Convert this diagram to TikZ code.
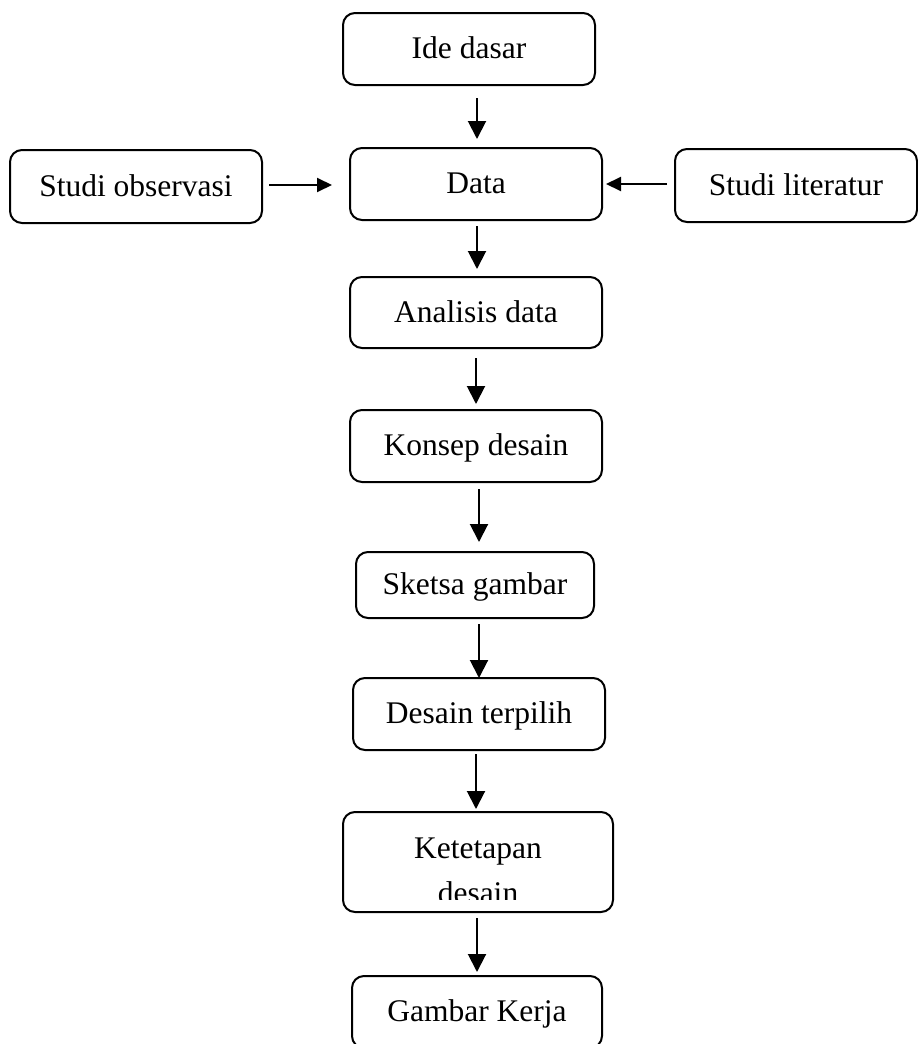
\documentclass[tikz,border=0pt]{standalone}
\usepackage{fontspec}
\setmainfont{Liberation Serif}
\usetikzlibrary{arrows.meta}
\begin{document}
\begin{tikzpicture}[x=1pt,y=-1pt,
  boxstyle/.style={draw=black, line width=2pt, rounded corners=12pt, inner sep=0pt,
    font=\fontsize{31.5}{38}\selectfont, text height=21pt, text depth=2pt},
  txtstyle/.style={inner sep=0pt, font=\fontsize{31.5}{38}\selectfont},
  varr/.style={line width=2pt, -{Triangle[length=18pt,width=18pt]}},
  harr/.style={line width=2pt, -{Triangle[length=15pt,width=14pt]}}]
\clip (0,0) rectangle (918,1044);
\fill[white] (0,0) rectangle (918,1044);
% boxes
\node[boxstyle, minimum width=252pt, minimum height=72pt] (ide) at (469,49) {Ide dasar};
\node[boxstyle, minimum width=252pt, minimum height=72pt] (data) at (476,184) {Data};
\node[boxstyle, minimum width=252pt, minimum height=73pt] (obs) at (136,186.5) {Studi observasi};
\node[boxstyle, minimum width=242pt, minimum height=73pt] (lit) at (796,185.5) {Studi literatur};
\node[boxstyle, minimum width=252pt, minimum height=71pt] (ana) at (476,312.5) {Analisis data};
\node[boxstyle, minimum width=252pt, minimum height=72pt] (kon) at (476,446) {Konsep desain};
\node[boxstyle, minimum width=238pt, minimum height=66pt] (ske) at (475,585) {Sketsa gambar};
\node[boxstyle, minimum width=252pt, minimum height=72pt] (ter) at (479,714) {Desain terpilih};
\node[boxstyle, minimum width=270pt, minimum height=100pt] (ket) at (478,862) {};
\node[txtstyle, anchor=base] (ketA) at (478,858) {Ketetapan};
\begin{scope}
  \clip (343,812) rectangle (613,899);
  \node[txtstyle, anchor=base] (ketB) at (478,903.5) {desain};
\end{scope}
\node[boxstyle, minimum width=250pt, minimum height=72pt] (gam) at (477,1012) {Gambar Kerja};
% x positions for arrows
\coordinate (x476) at (476,0);
\coordinate (x477) at (477,0);
\coordinate (x479) at (479,0);
\coordinate (y185) at (0,185);
\coordinate (y184) at (0,184);
% arrows
\draw[varr, shorten <=12pt, shorten >=8pt] (ide.south -| x477) -- (data.north -| x477);
\draw[harr, shorten <=6pt, shorten >=17pt] (obs.east |- y185) -- (data.west |- y185);
\draw[harr, shorten <=7pt, shorten >=3pt] (lit.west |- y184) -- (data.east |- y184);
\draw[varr, shorten <=5pt, shorten >=7pt] (data.south -| x477) -- (ana.north -| x477);
\draw[varr, shorten <=9pt, shorten >=5pt] (ana.south -| x476) -- (kon.north -| x476);
\draw[varr, shorten <=6pt, shorten >=9pt] (kon.south -| x479) -- (ske.north -| x479);
\draw[varr, shorten <=5pt, shorten >=-1pt] (ske.south -| x479) -- (ter.north -| x479);
\draw[varr, shorten <=3pt, shorten >=2pt] (ter.south -| x476) -- (ket.north -| x476);
\draw[varr, shorten <=5pt, shorten >=3pt] (ket.south -| x477) -- (gam.north -| x477);
\end{tikzpicture}
\end{document}
